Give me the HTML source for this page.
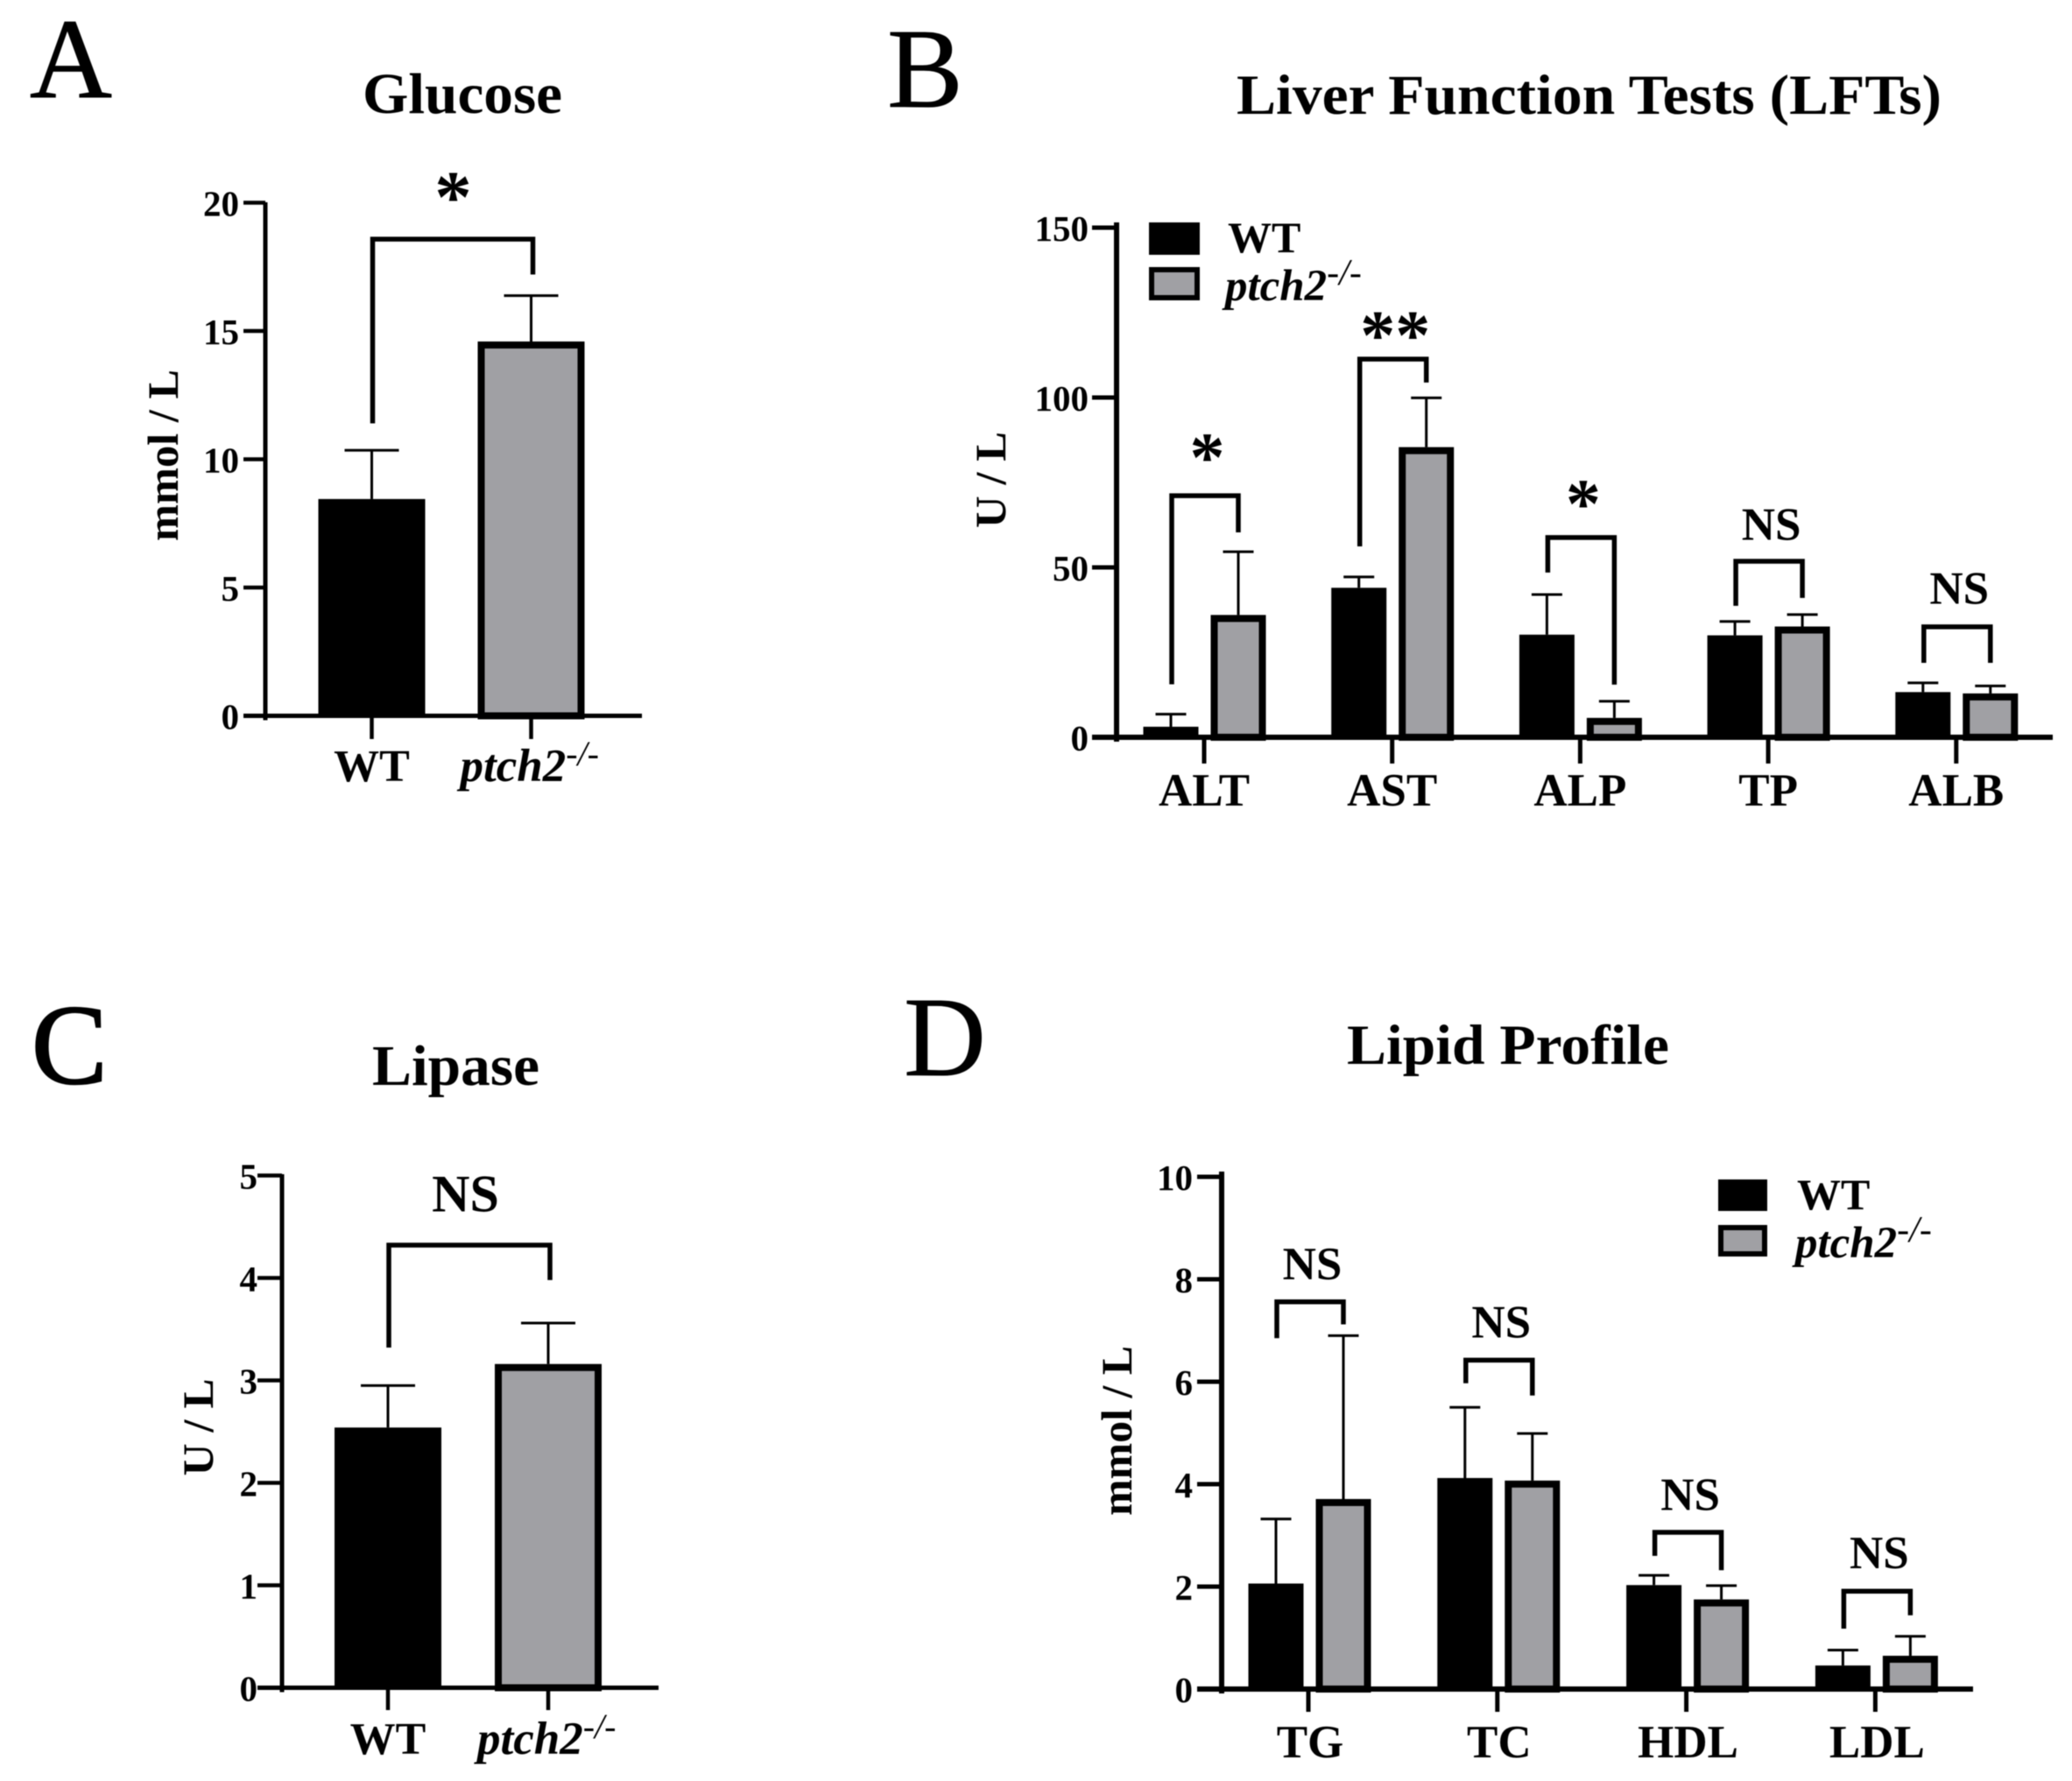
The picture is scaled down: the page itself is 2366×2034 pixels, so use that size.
<!DOCTYPE html>
<html>
<head>
<meta charset="utf-8">
<title>Serum biochemistry panels</title>
<style>
html,body{margin:0;padding:0;background:#fff;}
svg{display:block;filter:blur(0.6px);}
text{font-family:"Liberation Serif",serif;fill:#000;}
</style>
</head>
<body>
<svg id="figure" xmlns="http://www.w3.org/2000/svg" width="2366" height="2034" viewBox="0 0 2366 2034">
  <rect width="2366" height="2034" fill="#fff"/>

  <text x="34" y="111" font-size="130" stroke="#000" stroke-width="1">A</text>
  <text x="1013" y="122" font-size="130" stroke="#000" stroke-width="0.6">B</text>
  <text x="36" y="1237" font-size="130" stroke="#000" stroke-width="2">C</text>
  <text x="1032" y="1228" font-size="130" stroke="#000" stroke-width="0.6">D</text>

  <text x="414" y="129" font-size="66" font-weight="bold" textLength="228" lengthAdjust="spacingAndGlyphs">Glucose</text>
  <text x="1412" y="130" font-size="65" font-weight="bold" textLength="805" lengthAdjust="spacingAndGlyphs">Liver Function Tests (LFTs)</text>
  <text x="425" y="1239" font-size="66" font-weight="bold" textLength="191" lengthAdjust="spacingAndGlyphs">Lipase</text>
  <text x="1538" y="1215" font-size="65" font-weight="bold" textLength="368" lengthAdjust="spacingAndGlyphs">Lipid Profile</text>

  <text transform="translate(203,520) rotate(-90)" text-anchor="middle" font-size="50" font-weight="bold" textLength="196" lengthAdjust="spacingAndGlyphs">mmol / L</text>
  <text transform="translate(1148,548) rotate(-90)" text-anchor="middle" font-size="50" font-weight="bold" textLength="110" lengthAdjust="spacingAndGlyphs">U / L</text>
  <text transform="translate(243,1630) rotate(-90)" text-anchor="middle" font-size="50" font-weight="bold" textLength="111" lengthAdjust="spacingAndGlyphs">U / L</text>
  <text transform="translate(1292,1634) rotate(-90)" text-anchor="middle" font-size="50" font-weight="bold" textLength="194" lengthAdjust="spacingAndGlyphs">mmol / L</text>

  <g>
    <rect x="1312" y="254" width="58" height="37" fill="#000"/>
    <text x="1402" y="288" font-size="50" font-weight="bold">WT</text>
    <rect x="1315" y="308" width="52" height="32" fill="#a0a0a4" stroke="#000" stroke-width="6"/>
    <text x="1399" y="343" font-size="51" font-weight="bold" font-style="italic">ptch2<tspan dy="-18" font-size="42" font-weight="normal">-/-</tspan></text>
  </g>
  <g>
    <rect x="1962" y="1347" width="56" height="36" fill="#000"/>
    <text x="2052" y="1381" font-size="50" font-weight="bold">WT</text>
    <rect x="1965" y="1402" width="50" height="30" fill="#a0a0a4" stroke="#000" stroke-width="6"/>
    <text x="2050" y="1436" font-size="51" font-weight="bold" font-style="italic">ptch2<tspan dy="-18" font-size="42" font-weight="normal">-/-</tspan></text>
  </g>
</svg>

<script>
/* ---------- Panel A: glucose ---------- */
const glucoseTicks = [0, 5, 10, 15, 20];
const glucoseMeans = [8.45, 14.59];
const glucoseUpper = [10.35, 16.38];
const glucoseBracketTop = [18.58];
const glucoseBracketLeft = [11.4];
const glucoseBracketRight = [17.2];
const glucoseSigLabels = ["*"];
const glucoseSigLevels = [19.25];

/* ---------- Panel B: liver function tests ---------- */
const lftCategories = ["ALT", "AST", "ALP", "TP", "ALB"];
const lftTicks = [0, 50, 100, 150];
const lftWtMeans = [3.1, 44, 30.2, 30, 13.3];
const lftWtUpper = [6.8, 47.2, 42, 34.1, 16];
const lftKoMeans = [36, 85.4, 5.7, 32.6, 12.9];
const lftKoUpper = [54.6, 99.9, 10.6, 36.1, 15.1];
const lftBracketTop = [71.1, 111.3, 58.8, 51.8, 32.5];
const lftBracketLeft = [15.6, 56.2, 48.5, 38.7, 21.9];
const lftBracketRight = [60.3, 104.4, 15.5, 41, 21.9];
const lftSigLabels = ["*", "**", "*", "NS", "NS"];
const lftSigLevels = [75.4, 111.3, 61.7, 58.1, 39.3];

/* ---------- Panel C: lipase ---------- */
const lipaseTicks = [0, 1, 2, 3, 4, 5];
const lipaseMeans = [2.54, 3.16];
const lipaseUpper = [2.95, 3.56];
const lipaseBracketTop = [4.32];
const lipaseBracketLeft = [3.32];
const lipaseBracketRight = [3.98];
const lipaseSigLabels = ["NS"];
const lipaseSigLevels = [4.65];

/* ---------- Panel D: lipid profile ---------- */
const lipidCategories = ["TG", "TC", "HDL", "LDL"];
const lipidTicks = [0, 2, 4, 6, 8, 10];
const lipidWtMeans = [2.06, 4.12, 2.03, 0.46];
const lipidWtUpper = [3.32, 5.5, 2.22, 0.76];
const lipidKoMeans = [3.71, 4.07, 1.75, 0.65];
const lipidKoUpper = [6.9, 4.99, 2.02, 1.03];
const lipidBracketTop = [7.56, 6.42, 3.06, 1.91];
const lipidBracketLeft = [6.85, 5.97, 2.6, 1.18];
const lipidBracketRight = [7.12, 5.73, 2.32, 1.44];
const lipidSigLabels = ["NS", "NS", "NS", "NS"];
const lipidSigLevels = [8.0, 6.86, 3.5, 2.36];

const SVG_NS = "http://www.w3.org/2000/svg";
const figure = document.getElementById("figure");
const GREY = "#a0a0a4";

function shape(parent, tag, name, attrs) {
  const el = document.createElementNS(SVG_NS, tag);
  
  
  for (const k in attrs) { el.setAttribute(k, attrs[k]); }
  parent.appendChild(el);
  return el;
}
function line(parent, name, x1, y1, x2, y2, w) {
  return shape(parent, "line", name, {x1: x1, y1: y1, x2: x2, y2: y2, stroke: "#000", "stroke-width": w});
}
function label(parent, name, str, x, y, size, anchor) {
  const t = shape(parent, "text", name, {x: x, y: y, "font-size": size, "font-weight": "bold", "text-anchor": anchor});
  t.textContent = str;
  return t;
}
function ptchLabel(parent, x, y) {
  const t = shape(parent, "text", "x-label-ptch2", {x: x, y: y, "font-size": 53, "font-weight": "bold", "font-style": "italic"});
  t.appendChild(document.createTextNode("ptch2"));
  const sup = document.createElementNS(SVG_NS, "tspan");
  sup.setAttribute("dy", "-18");
  sup.setAttribute("font-size", "40");
  sup.setAttribute("font-weight", "normal");
  sup.textContent = "-/-";
  t.appendChild(sup);
}
function drawAxes(g, f, ticks, yOf) {
  ticks.forEach(function (v) {
    line(g, "y-tick", f.tickLeft, yOf(v), f.axisX, yOf(v), f.tickWidth);
    label(g, "y-tick-label", String(v), f.tickLabelX, yOf(v) + 15, 41, "end");
  });
  line(g, "y-axis", f.axisX, f.axisTop, f.axisX, yOf(0) + 5, f.axisWidth);
  line(g, "x-axis", f.tickLeft, yOf(0), f.axisEnd, yOf(0), f.axisWidth);
}
function drawBar(g, name, cx, width, mean, upper, fill, border, capW, yOf) {
  const top = yOf(mean), base = yOf(0);
  line(g, name + "-error-stem", cx, top, cx, yOf(upper), 3);
  line(g, name + "-error-cap", cx - capW / 2, yOf(upper), cx + capW / 2, yOf(upper), 3);
  shape(g, "rect", name, {
    x: cx - width / 2 + border / 2,
    y: top + border / 2,
    width: width - border,
    height: Math.max(base - top - border / 2, 0),
    fill: fill, stroke: "#000", "stroke-width": border
  });
}
function drawBracket(g, xl, xr, top, left, right, w, yOf) {
  shape(g, "path", "significance-bracket", {
    d: "M" + xl + " " + yOf(left) + "V" + yOf(top) + "H" + xr + "V" + yOf(right),
    fill: "none", stroke: "#000", "stroke-width": w
  });
}
function drawSig(g, str, x, level, nsSize, starSize, yOf) {
  const isStar = str.charAt(0) === "*";
  label(g, "significance-label", str, x, yOf(level), isStar ? starSize : nsSize, "middle");
}

/* Two-bar panels (A, C) */
function singlePanel(name, f, ticks, means, upper, bTop, bLeft, bRight, sig, sigLevel) {
  const g = shape(figure, "g", name, {});
  const yOf = function (v) { return f.y0 - v * f.perUnit; };
  const centers = [f.x0, f.x0 + f.step];
  means.forEach(function (m, i) {
    drawBar(g, i === 0 ? "bar-wt" : "bar-ptch2", centers[i], f.barW, m, upper[i],
      i === 0 ? "#000" : GREY, i === 0 ? 2 : 8, f.capW, yOf);
    line(g, "x-tick", centers[i], yOf(0), centers[i], f.tickBottom, 4.5);
  });
  drawAxes(g, f, ticks, yOf);
  label(g, "x-label-wt", "WT", centers[0], f.labelY, 52, "middle");
  ptchLabel(g, centers[1] - 81, f.labelY);
  drawBracket(g, centers[0] + 1, centers[1] + 2, bTop[0], bLeft[0], bRight[0], 5.5, yOf);
  drawSig(g, sig[0], (centers[0] + centers[1]) / 2 + f.sigDx, sigLevel[0], 60, 85, yOf);
}

/* Grouped panels (B, D) */
function groupedPanel(name, f, cats, ticks, wt, wtU, ko, koU, bTop, bLeft, bRight, sig, sigLevel) {
  const g = shape(figure, "g", name, {});
  const yOf = function (v) { return f.y0 - v * f.perUnit; };
  cats.forEach(function (c, i) {
    const cx = f.x0 + i * f.step;
    const xw = cx + f.wtOffset, xk = cx + f.koOffset;
    drawBar(g, "bar-wt-" + c.toLowerCase(), xw, f.barW, wt[i], wtU[i], "#000", 2, f.capW, yOf);
    drawBar(g, "bar-ptch2-" + c.toLowerCase(), xk, f.barW, ko[i], koU[i], GREY, 8, f.capW, yOf);
    line(g, "x-tick", cx, yOf(0), cx, f.tickBottom, 5);
    label(g, "x-label-" + c.toLowerCase(), c, cx + f.labelDx, f.labelY, 53, "middle");
    drawBracket(g, xw + 1, xk, bTop[i], bLeft[i], bRight[i], 5.5, yOf);
    drawSig(g, sig[i], (xw + xk) / 2 + 3, sigLevel[i], 53, 80, yOf);
  });
  drawAxes(g, f, ticks, yOf);
}

singlePanel("glucose-chart",
  {x0: 424.5, step: 182, y0: 817.5, perUnit: 29.3, barW: 122, capW: 62, axisX: 303, axisTop: 231, axisEnd: 733,
   tickLeft: 278, tickLabelX: 273, tickBottom: 844, labelY: 892, axisWidth: 5, tickWidth: 4.5, sigDx: 2},
  glucoseTicks, glucoseMeans, glucoseUpper, glucoseBracketTop, glucoseBracketLeft, glucoseBracketRight, glucoseSigLabels, glucoseSigLevels);

groupedPanel("lft-chart",
  {x0: 1375, step: 214.7, y0: 842, perUnit: 3.88, barW: 63, capW: 35, wtOffset: -38, koOffset: 39, axisX: 1275, axisTop: 254,
   axisEnd: 2344, tickLeft: 1247, tickLabelX: 1243, tickBottom: 872, labelY: 920, axisWidth: 6, tickWidth: 5, labelDx: 0},
  lftCategories, lftTicks, lftWtMeans, lftWtUpper, lftKoMeans, lftKoUpper, lftBracketTop, lftBracketLeft, lftBracketRight, lftSigLabels, lftSigLevels);

singlePanel("lipase-chart",
  {x0: 443, step: 183, y0: 1927.5, perUnit: 117, barW: 122, capW: 62, axisX: 322, axisTop: 1341, axisEnd: 752,
   tickLeft: 294, tickLabelX: 294, tickBottom: 1953, labelY: 2003, axisWidth: 5, tickWidth: 4.5, sigDx: -3},
  lipaseTicks, lipaseMeans, lipaseUpper, lipaseBracketTop, lipaseBracketLeft, lipaseBracketRight, lipaseSigLabels, lipaseSigLevels);

groupedPanel("lipid-chart",
  {x0: 1494, step: 215.8, y0: 1929, perUnit: 58.5, barW: 63, capW: 35, wtOffset: -37, koOffset: 40, axisX: 1395, axisTop: 1338,
   axisEnd: 2253, tickLeft: 1367, tickLabelX: 1362, tickBottom: 1955, labelY: 2007, axisWidth: 6, tickWidth: 5, labelDx: 2},
  lipidCategories, lipidTicks, lipidWtMeans, lipidWtUpper, lipidKoMeans, lipidKoUpper, lipidBracketTop, lipidBracketLeft, lipidBracketRight, lipidSigLabels, lipidSigLevels);
</script>
</body>
</html>
